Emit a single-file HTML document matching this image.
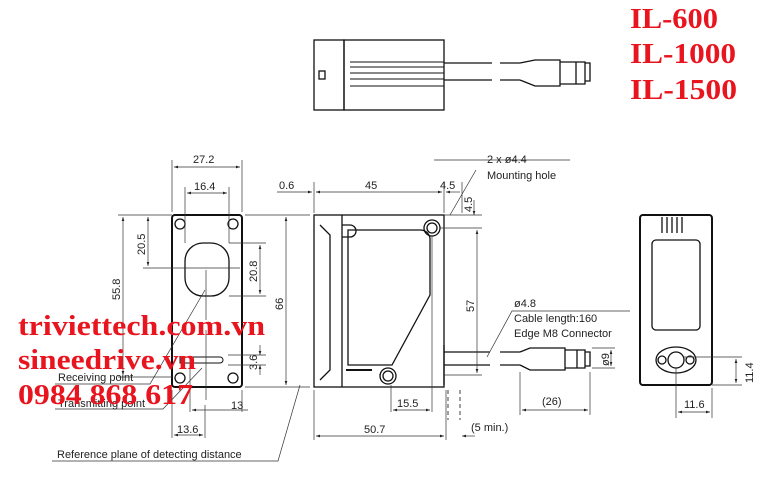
<!DOCTYPE html>
<html><head><meta charset="utf-8"><style>
body{margin:0;background:#fff}
svg{display:block}
text{font-family:"Liberation Sans",sans-serif;font-size:11px;fill:#222}
.r{font-family:"Liberation Serif",serif;font-weight:bold;fill:#e8141e}
</style></head><body>
<svg width="769" height="492" viewBox="0 0 769 492" xmlns="http://www.w3.org/2000/svg">
<defs><marker id="a" markerWidth="6" markerHeight="6" refX="6" refY="3" orient="auto-start-reverse"><path d="M0,1 L6,3 L0,5z" fill="#222"/></marker></defs>
<g fill="none" stroke="#111" stroke-width="1.3">
<rect x="314" y="40" width="30" height="70"/>
<rect x="344" y="40" width="100" height="70"/>
<rect x="319" y="71" width="6" height="8"/>
<g stroke-width="1.1"><line x1="350" y1="62" x2="444" y2="62"/><line x1="350" y1="67" x2="444" y2="67"/><line x1="350" y1="73" x2="444" y2="73"/><line x1="350" y1="79" x2="444" y2="79"/><line x1="350" y1="86" x2="444" y2="86"/></g>
<path d="M444 63 H492 M444 80 H492 M500 63 H520 M500 80 H520"/>
<path d="M520 63 L535 60 H560 V86 H535 L520 80"/>
<path d="M560 62 H585 V84 H560 M576 62 V84 M585 63 H590 V81 H585"/>
<rect x="172" y="215" width="70" height="172" rx="3" stroke-width="2"/>
<circle cx="180" cy="224" r="5"/><circle cx="233" cy="224" r="5"/><circle cx="180" cy="378" r="5"/><circle cx="233" cy="378" r="5"/>
<rect x="185" y="243" width="44" height="53" rx="18"/>
<path d="M180 357 H220 A3 3 0 0 1 220 363 H180z" stroke-width="1"/>
</g>
<g stroke="#333" stroke-width="0.7" fill="none">
<path d="M172 160 V212 M242 160 V212 M185 187 V243 M229 187 V243"/>
<line x1="174" y1="167" x2="240" y2="167" marker-start="url(#a)" marker-end="url(#a)"/>
<line x1="187" y1="193" x2="227" y2="193" marker-start="url(#a)" marker-end="url(#a)"/>
<path d="M118 215 H172 M118 377 H172 M143 268 H240 M206 270 V320 M206 330 V400"/>
<line x1="123" y1="217" x2="123" y2="375" marker-start="url(#a)" marker-end="url(#a)"/>
<line x1="148" y1="217" x2="148" y2="266" marker-start="url(#a)" marker-end="url(#a)"/>
<path d="M229 243 H266 M229 296 H266 M228 355 H266 M228 365 H266"/>
<line x1="260" y1="245" x2="260" y2="294" marker-start="url(#a)" marker-end="url(#a)"/>
<line x1="260" y1="345" x2="260" y2="355" marker-end="url(#a)"/><line x1="260" y1="375" x2="260" y2="365" marker-end="url(#a)"/>
<path d="M190 365 V412 M242 390 V412 M172 390 V438 M205 405 V438"/>
<line x1="192" y1="410" x2="248" y2="410" marker-start="url(#a)"/>
<line x1="174" y1="435" x2="203" y2="435" marker-start="url(#a)" marker-end="url(#a)"/>
<path d="M55 384 H150 L205 290 M55 409 H163 L202 368"/>
<path d="M245 215 H310 M245 387 H310"/>
<line x1="286" y1="217" x2="286" y2="385" marker-start="url(#a)" marker-end="url(#a)"/>
<path d="M52 461 H278 L300 385"/>
</g>
<g fill="none" stroke="#111" stroke-width="1.3">
<rect x="314" y="215" width="130" height="172"/>
<path d="M342 215 V387 M320 225 L330 235 V370 L320 380"/>
<path d="M348 230 H420 Q428 230 430 238 V295 L392 365 H348 V238z"/>
<path d="M342 225 H350 A6 6 0 0 1 350 237 H342"/>
<circle cx="432" cy="228" r="8"/><circle cx="432" cy="228" r="5"/>
<circle cx="388" cy="376" r="8"/><circle cx="388" cy="376" r="5"/>
<path d="M346 370 H372" stroke-width="2"/>
<path d="M444 345 V385 M444 352 H490 M444 365 H490 M500 352 H520 M500 365 H520"/>
<path d="M520 352 L530 348 H565 V370 H530 L520 365 M565 350 H585 V368 H565 M577 350 V368 M585 352 H590 V366 H585"/>
<path d="M448 390 V420 M460 390 V420" stroke-dasharray="4 3" stroke-width="0.8"/>
<rect x="640" y="215" width="72" height="170" rx="3" stroke-width="2"/>
<rect x="652" y="240" width="48" height="90" rx="4"/>
<path d="M662 217 V233 M667 217 V233 M672 217 V233 M677 217 V233 M682 217 V233"/>
<ellipse cx="676" cy="360" rx="20" ry="13"/><circle cx="676" cy="360" r="8"/><circle cx="662" cy="360" r="4"/><circle cx="690" cy="360" r="4"/>
</g>
<g stroke="#333" stroke-width="0.7" fill="none">
<path d="M314 182 V213 M444 182 V213 M462 182 V213 M434 160 L480 160 H570 M450 215 L476 170"/>
<line x1="316" y1="192" x2="442" y2="192" marker-start="url(#a)" marker-end="url(#a)"/>
<line x1="277" y1="192" x2="312" y2="192" marker-end="url(#a)"/>
<line x1="446" y1="192" x2="460" y2="192" marker-start="url(#a)"/>
<path d="M440 228 H482 M444 215 H482 M444 375 H482"/>
<line x1="477" y1="230" x2="477" y2="373" marker-start="url(#a)" marker-end="url(#a)"/>
<line x1="474" y1="200" x2="474" y2="215" marker-end="url(#a)"/>
<path d="M391 385 V412 M432 236 V412 M314 390 V440 M446 390 V440"/>
<line x1="393" y1="410" x2="430" y2="410" marker-start="url(#a)" marker-end="url(#a)"/>
<line x1="316" y1="436" x2="444" y2="436" marker-start="url(#a)" marker-end="url(#a)"/>
<line x1="475" y1="436" x2="462" y2="436" marker-end="url(#a)"/>
<path d="M487 357 L512 311 H630"/>
<path d="M520 372 V415 M590 372 V415 M592 348 H615 M592 368 H615"/>
<line x1="522" y1="410" x2="588" y2="410" marker-start="url(#a)" marker-end="url(#a)"/>
<line x1="611" y1="350" x2="611" y2="366" marker-start="url(#a)" marker-end="url(#a)"/>
<path d="M684 357 H742 M712 385 H742 M676 368 V418 M712 388 V418"/>
<line x1="736" y1="359" x2="736" y2="383" marker-start="url(#a)" marker-end="url(#a)"/>
<line x1="678" y1="412" x2="710" y2="412" marker-start="url(#a)" marker-end="url(#a)"/>
</g>
<text x="193" y="163">27.2</text><text x="194" y="190">16.4</text>
<text transform="translate(120,300) rotate(-90)">55.8</text>
<text transform="translate(145,255) rotate(-90)">20.5</text>
<text transform="translate(257,282) rotate(-90)">20.8</text>
<text transform="translate(257,370) rotate(-90)">3.6</text>
<text transform="translate(283,310) rotate(-90)">66</text>
<text x="231" y="409">13</text><text x="177" y="433">13.6</text>
<text x="58" y="381">Receiving point</text><text x="58" y="407">Transmitting point</text>
<text x="57" y="458">Reference plane of detecting distance</text>
<text x="279" y="189">0.6</text><text x="365" y="189">45</text><text x="440" y="189">4.5</text>
<text transform="translate(472,212) rotate(-90)">4.5</text>
<text x="487" y="163">2 x ø4.4</text><text x="487" y="179">Mounting hole</text>
<text transform="translate(474,312) rotate(-90)">57</text>
<text x="397" y="407">15.5</text><text x="364" y="433">50.7</text><text x="471" y="431">(5 min.)</text>
<text x="514" y="307">ø4.8</text><text x="514" y="322">Cable length:160</text><text x="514" y="337">Edge M8 Connector</text>
<text transform="translate(609,366) rotate(-90)">ø9</text><text x="542" y="405">(26)</text>
<text transform="translate(753,383) rotate(-90)">11.4</text><text x="684" y="408">11.6</text>
<text class="r" x="18" y="335" style="font-size:28px" textLength="247" lengthAdjust="spacingAndGlyphs">triviettech.com.vn</text>
<text class="r" x="18" y="369" style="font-size:28px" textLength="178" lengthAdjust="spacingAndGlyphs">sineedrive.vn</text>
<text class="r" x="18" y="404" style="font-size:28px" textLength="175" lengthAdjust="spacingAndGlyphs">0984 868 617</text>
<text class="r" x="630" y="28" style="font-size:29px" textLength="88" lengthAdjust="spacingAndGlyphs">IL-600</text>
<text class="r" x="630" y="63" style="font-size:29px" textLength="106" lengthAdjust="spacingAndGlyphs">IL-1000</text>
<text class="r" x="630" y="99" style="font-size:29px" textLength="107" lengthAdjust="spacingAndGlyphs">IL-1500</text>
</svg>
</body></html>
